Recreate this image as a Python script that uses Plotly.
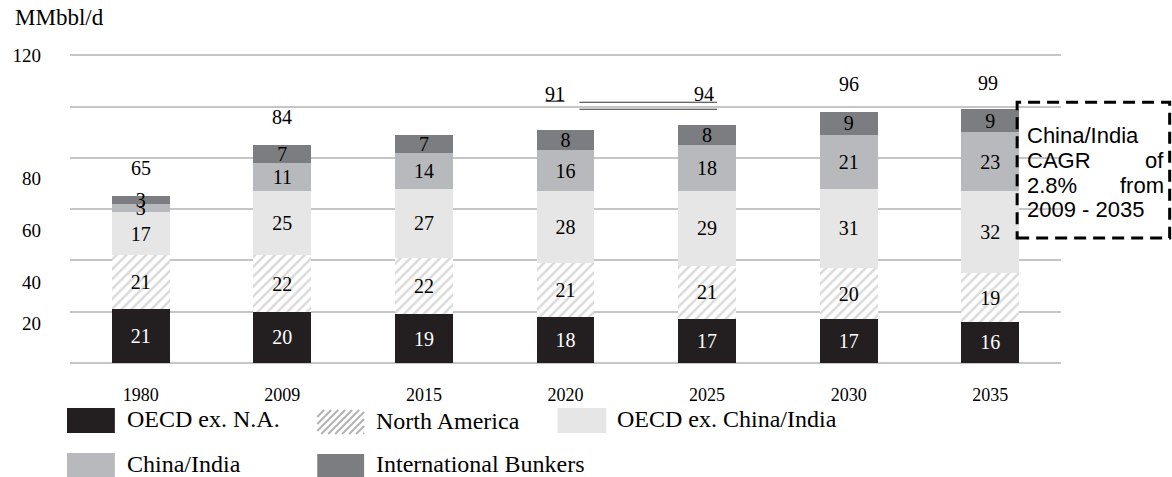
import plotly.graph_objects as go

# ---------------- data ----------------
YEARS = ["1980", "2009", "2015", "2020", "2025", "2030", "2035"]
SERIES_NAMES = ["OECD ex. N.A.", "North America", "OECD ex. China/India",
                "China/India", "International Bunkers"]
OECD_EX_NA = [21, 20, 19, 18, 17, 17, 16]
NORTH_AMERICA = [21, 22, 22, 21, 21, 20, 19]
OECD_EX_CHINA_INDIA = [17, 25, 27, 28, 29, 31, 32]
CHINA_INDIA = [3, 11, 14, 16, 18, 21, 23]
BUNKERS = [3, 7, 7, 8, 8, 9, 9]
TOTAL_LABELS = [65, 84, None, 91, 94, 96, 99]
Y_TICK_TEXT = ["120", "80", "60", "40", "20"]
Y_UNIT = "MMbbl/d"
NOTE_LINES = [("China/India", ""), ("CAGR", "of"), ("2.8%", "from"), ("2009 - 2035", "")]

# ---------------- styles / positions ----------------
W, H = 1172, 477
Y_MAX = 120.5
UNIT_PX = 308 / 120          # pixels per unit on the value axis
L, R, B = 67, 111, 114
PW = W - L - R
PH = UNIT_PX * Y_MAX
T = H - B - PH
SERIF = "Liberation Serif, Times New Roman, serif"
SANS = "Liberation Sans, Arial, sans-serif"
Y_TICK_POS = [120, 72.1, 51.8, 31.6, 15.6]   # where the scanned labels sit
TOTAL_SHIFTS = [(0, 28), (0, 28), (0, 28), (-11, 36), (-3, 31), (0, 28), (-2, 26)]

def px(x):
    return (x - L) / PW

def py(y):
    return (H - B - y) / PH

colors = ["#231f20", "white", "#e5e6e5", "#b8b9bc", "#7c7d80"]
text_colors = ["white", "black", "black", "black", "black"]
series = [OECD_EX_NA, NORTH_AMERICA, OECD_EX_CHINA_INDIA, CHINA_INDIA, BUNKERS]

fig = go.Figure()
for i, (name, vals) in enumerate(zip(SERIES_NAMES, series)):
    marker = dict(color=colors[i], line=dict(width=0))
    if i == 1:
        marker["pattern"] = dict(shape="/", fgcolor="#b3b3b3", bgcolor="white",
                                 size=7, solidity=0.35)
    fig.add_bar(x=YEARS, y=vals, name=name, marker=marker,
                texttemplate="%{y}", textposition="inside",
                insidetextanchor="middle", constraintext="none", textangle=0,
                textfont=dict(family=SERIF, size=20, color=text_colors[i]),
                showlegend=False, hoverinfo="skip")

# invisible trace to anchor the label axis
fig.add_scatter(x=[YEARS[0]], y=[0], yaxis="y2", mode="markers",
                marker=dict(opacity=0), showlegend=False, hoverinfo="skip")

annotations = []
stack_tops = [sum(v) for v in zip(*series)]
for i, lab in enumerate(TOTAL_LABELS):
    if lab is None:
        continue
    dx, dy = TOTAL_SHIFTS[i]
    # category index i on the category axis
    annotations.append(dict(x=i, y=stack_tops[i], xref="x", yref="y",
                            text=str(lab), showarrow=False, yanchor="middle",
                            xshift=dx, yshift=dy,
                            font=dict(family=SERIF, size=20, color="black")))

annotations.append(dict(x=px(10), y=py(17), xref="paper", yref="paper",
                        text=Y_UNIT, showarrow=False, xanchor="left",
                        yanchor="middle", font=dict(family=SERIF, size=23, color="black")))

shapes = []
# decorative underline strokes around 91 / 94
for (x0, x1, yy) in [(544, 563, 101), (578, 716, 102), (578, 716, 109)]:
    shapes.append(dict(type="line", xref="paper", yref="paper",
                       x0=px(x0), x1=px(x1), y0=py(yy), y1=py(yy),
                       line=dict(color="#333333", width=1.2)))

# note box
shapes.append(dict(type="rect", xref="paper", yref="paper",
                   x0=px(1017), x1=px(1170), y0=py(238), y1=py(102),
                   line=dict(color="black", width=3, dash="12px,7px"),
                   fillcolor="rgba(0,0,0,0)"))
note_y = [135, 160, 185, 209]
for (left, right), yy in zip(NOTE_LINES, note_y):
    annotations.append(dict(x=px(1025), y=py(yy), xref="paper", yref="paper",
                            text=left, showarrow=False, xanchor="left", yanchor="middle",
                            font=dict(family=SANS, size=22, color="black")))
    if right:
        annotations.append(dict(x=px(1166), y=py(yy), xref="paper", yref="paper",
                                text=right, showarrow=False, xanchor="right",
                                yanchor="middle",
                                font=dict(family=SANS, size=22, color="black")))

# custom legend
legend_slots = [(64, 112, 408, 433, 122), (315, 362, 410, 434, 372),
                (556, 605, 408, 433, 614), (64, 112, 453, 477, 122),
                (315, 362, 454, 477, 372)]
for i, (name, (x0, x1, y0, y1, tx)) in enumerate(zip(SERIES_NAMES, legend_slots)):
    shapes.append(dict(type="rect", xref="paper", yref="paper",
                       x0=px(x0), x1=px(x1), y0=py(y1), y1=py(y0),
                       line=dict(width=0), fillcolor=colors[i]))
    if i == 1:
        hgt, wid, step = y1 - y0, x1 - x0, 7
        c = -hgt
        while c < wid:
            sx, sy = x0 + c, y1
            if sx < x0:
                sy = y1 - (x0 - sx)
                sx = x0
            ex, ey = x0 + c + hgt, y0
            if ex > x1:
                ey = y0 + (ex - x1)
                ex = x1
            shapes.append(dict(type="line", xref="paper", yref="paper",
                               x0=px(sx), y0=py(sy), x1=px(ex), y1=py(ey),
                               line=dict(color="#b3b3b3", width=2)))
            c += step
    annotations.append(dict(x=px(tx), y=py((y0 + y1) / 2 - 1), xref="paper", yref="paper",
                            text=name, showarrow=False, xanchor="left", yanchor="middle",
                            font=dict(family=SERIF, size=24, color="black")))

fig.update_layout(
    width=W, height=H, margin=dict(l=L, r=R, t=T, b=B, pad=0),
    paper_bgcolor="white", plot_bgcolor="white",
    barmode="stack", bargap=1 - 58 / 142,
    xaxis=dict(type="category", range=[-0.5, 6.5], showgrid=False, zeroline=False,
               showline=False, ticks="", ticklabelstandoff=19,
               tickfont=dict(family=SERIF, size=18, color="black")),
    yaxis=dict(range=[0, Y_MAX], tickmode="linear", tick0=0, dtick=20,
               showgrid=True, gridcolor="#c6c6c6",
               gridwidth=1.6, zeroline=True, zerolinecolor="#c6c6c6",
               zerolinewidth=1.6, showticklabels=False, ticks=""),
    yaxis2=dict(overlaying="y", range=[0, Y_MAX], side="left", anchor="x",
                tickmode="array", tickvals=Y_TICK_POS, ticktext=Y_TICK_TEXT,
                showgrid=False, zeroline=False, showline=False, ticks="",
                ticklabelstandoff=28,
                tickfont=dict(family=SERIF, size=19, color="black")),
    annotations=annotations, shapes=shapes,
)

fig.write_html("out.html", config={"displayModeBar": False},
               post_script="document.body.style.margin='0';document.body.style.overflow='hidden';")
